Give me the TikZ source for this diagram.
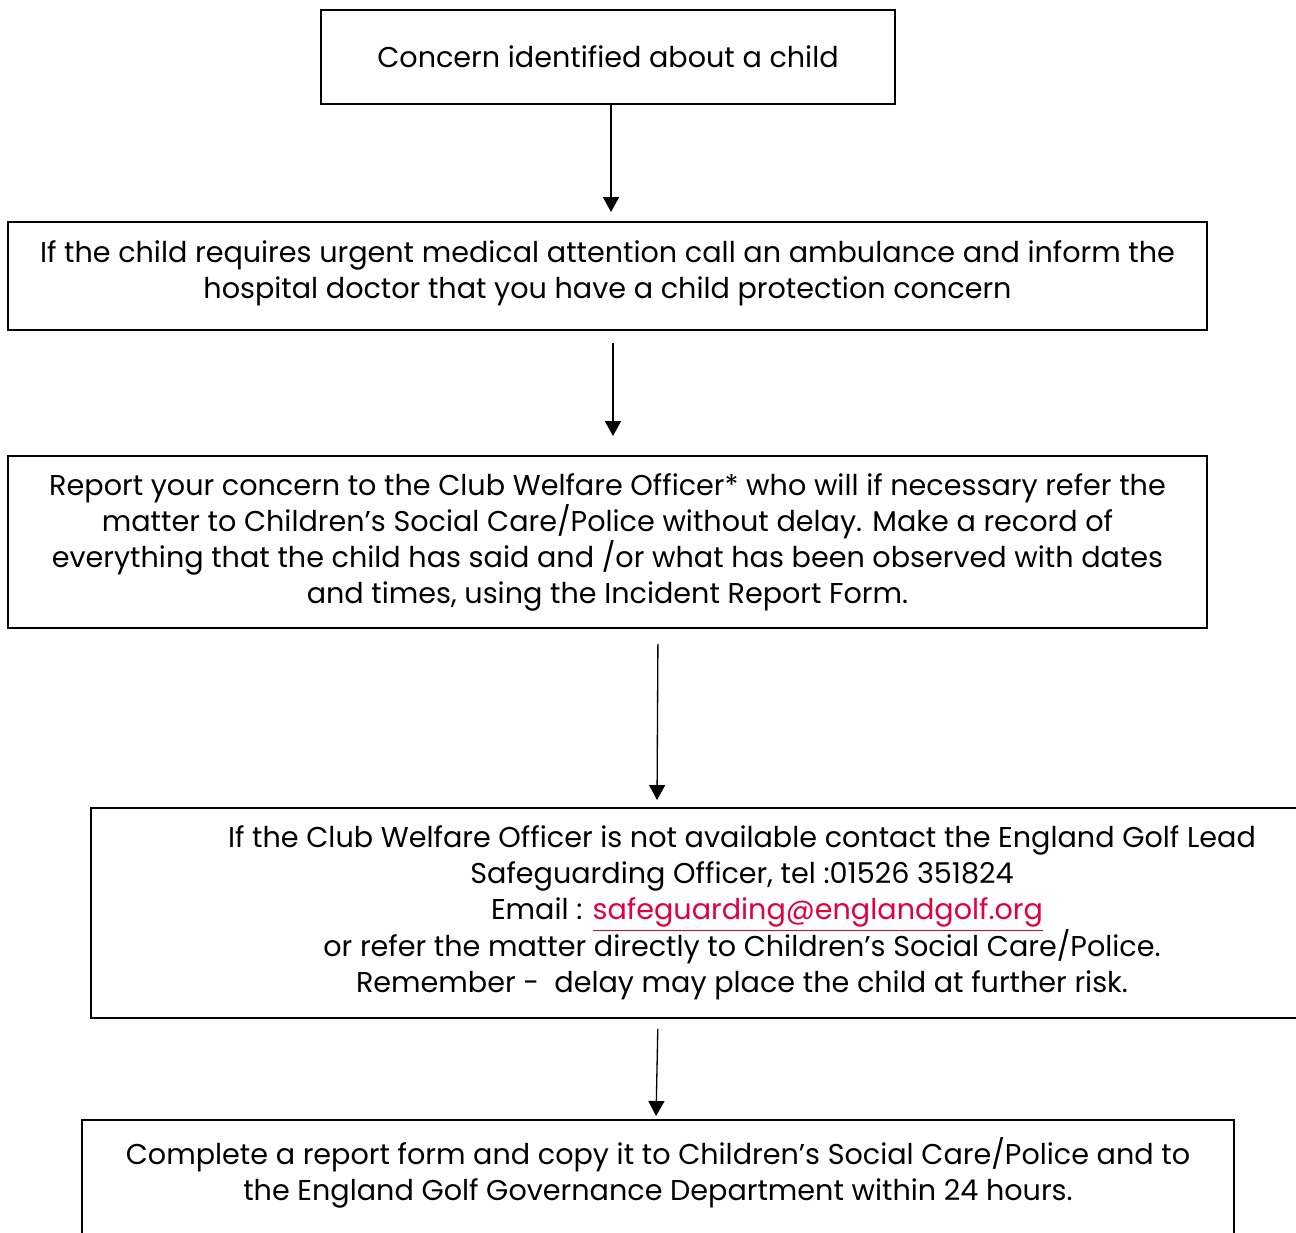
\documentclass[tikz,border=0pt]{standalone}
\usepackage{fontspec}
\setmainfont{Poppins}
\usetikzlibrary{arrows.meta}
\definecolor{linkred}{RGB}{228,0,60}
\tikzset{
  box/.style={draw, line width=1.1pt, align=center, inner sep=0pt,
    font=\fontsize{16.3}{20.5}\selectfont},
  flow/.style={-{Triangle[length=0.3cm, width=0.32cm]}, line width=0.75pt}
}
\begin{document}
\begin{tikzpicture}[x=0.02cm, y=-0.02cm]
  \clip (0,0) rectangle (1296,1233);
  \useasboundingbox (0,0) rectangle (1296,1233);

  \node[box, minimum width=574*0.02cm, minimum height=94*0.02cm] (b1) at (608,57)
    {Concern identified about a child};
  \node[box, minimum width=1199*0.02cm, minimum height=108*0.02cm] (b2) at (607.5,276)
    {If the child requires urgent medical attention call an ambulance and inform the\\
     hospital doctor that you have a child protection concern\\[-0.48cm]\mbox{}};
  \node[box, minimum width=1199*0.02cm, minimum height=172*0.02cm] (b3) at (607.5,542)
    {Report your concern to the Club Welfare Officer* who will if necessary refer the\\
     matter to Children’s Social Care/Police without delay. Make a record of\\
     everything that the child has said and /or what has been observed with dates\\
     and times, using the Incident Report Form.};
  \node[box, minimum width=1302*0.02cm, minimum height=210*0.02cm] (b4) at (742,913)
    {If the Club Welfare Officer is not available contact the England Golf Lead\\
     Safeguarding Officer, tel :01526 351824\\
     \hspace*{1.0cm}Email : \textcolor{linkred}{\underline{safeguarding@englandgolf.org}}\\[-2pt]
     or refer the matter directly to Children’s Social Care/Police.\\
     Remember -\ \ delay may place the child at further risk.};
  \node[box, minimum width=1152*0.02cm, minimum height=134*0.02cm] (b5) at (658,1187)
    {Complete a report form and copy it to Children’s Social Care/Police and to\\
     the England Golf Governance Department within 24 hours.\\ \mbox{}};

  \draw[flow, shorten >=0.18cm] (b1.south -| 611,0) -- (b2.north -| 611,0);
  \draw[flow, shorten <=0.24cm, shorten >=0.38cm] (b2.south -| 613,0) -- (b3.north -| 613,0);
  \draw[flow, shorten <=0.30cm, shorten >=0.14cm] (b3.south -| 658,0) -- (b4.north -| 657,0);
  \draw[flow, shorten <=0.20cm, shorten >=0.06cm] (b4.south -| 658,0) -- (b5.north -| 656,0);
\end{tikzpicture}
\end{document}
